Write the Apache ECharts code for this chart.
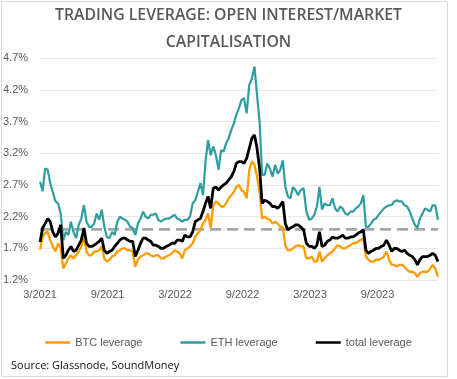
<!DOCTYPE html>
<html><head><meta charset="utf-8">
<script src="https://cdn.jsdelivr.net/npm/echarts@6/dist/echarts.min.js"></script>
<style>html,body{margin:0;padding:0;background:#fff}#c{width:457px;height:379px}</style>
</head><body><div id="c"></div>
<script>
const titleLines = ['TRADING LEVERAGE: OPEN INTEREST/MARKET', 'CAPITALISATION'];
const sourceText = 'Source: Glassnode, SoundMoney';
const seriesNames = ['BTC leverage', 'ETH leverage', 'total leverage'];
const xTickLabels = ['3/2021', '9/2021', '3/2022', '9/2022', '3/2023', '9/2023'];
const yTicks = [1.2, 1.7, 2.2, 2.7, 3.2, 3.7, 4.2, 4.7];
const referenceLevel = 2.0;

const dates = [
'2021-03-01','2021-03-08','2021-03-15','2021-03-22','2021-03-29','2021-04-05','2021-04-12','2021-04-19','2021-04-26','2021-05-03',
'2021-05-10','2021-05-17','2021-05-24','2021-05-31','2021-06-07','2021-06-14','2021-06-21','2021-06-28','2021-07-05','2021-07-12',
'2021-07-19','2021-07-26','2021-08-02','2021-08-09','2021-08-16','2021-08-23','2021-08-30','2021-09-06','2021-09-13','2021-09-20',
'2021-09-27','2021-10-04','2021-10-11','2021-10-18','2021-10-25','2021-11-01','2021-11-08','2021-11-15','2021-11-22','2021-11-29',
'2021-12-06','2021-12-13','2021-12-20','2021-12-27','2022-01-03','2022-01-10','2022-01-17','2022-01-24','2022-01-31','2022-02-07',
'2022-02-14','2022-02-21','2022-02-28','2022-03-07','2022-03-14','2022-03-21','2022-03-28','2022-04-04','2022-04-11','2022-04-18',
'2022-04-25','2022-05-02','2022-05-09','2022-05-16','2022-05-23','2022-05-30','2022-06-06','2022-06-13','2022-06-20','2022-06-27',
'2022-07-04','2022-07-11','2022-07-18','2022-07-25','2022-08-01','2022-08-08','2022-08-15','2022-08-22','2022-08-29','2022-09-05',
'2022-09-12','2022-09-19','2022-09-26','2022-10-03','2022-10-10','2022-10-17','2022-10-24','2022-10-31','2022-11-07','2022-11-14',
'2022-11-21','2022-11-28','2022-12-05','2022-12-12','2022-12-19','2022-12-26','2023-01-02','2023-01-09','2023-01-16','2023-01-23',
'2023-01-30','2023-02-06','2023-02-13','2023-02-20','2023-02-27','2023-03-06','2023-03-13','2023-03-20','2023-03-27','2023-04-03',
'2023-04-10','2023-04-17','2023-04-24','2023-05-01','2023-05-08','2023-05-15','2023-05-22','2023-05-29','2023-06-05','2023-06-12',
'2023-06-19','2023-06-26','2023-07-03','2023-07-10','2023-07-17','2023-07-24','2023-07-31','2023-08-07','2023-08-14','2023-08-21',
'2023-08-28','2023-09-04','2023-09-11','2023-09-18','2023-09-25','2023-10-02','2023-10-09','2023-10-16','2023-10-23','2023-10-30',
'2023-11-06','2023-11-13','2023-11-20','2023-11-27','2023-12-04','2023-12-11','2023-12-18','2023-12-25','2024-01-01','2024-01-08',
'2024-01-15','2024-01-22','2024-01-29','2024-02-05','2024-02-12'
];

const btcLeverage = [
1.68,1.88,1.94,1.96,1.83,1.73,1.65,1.78,1.70,1.38,
1.46,1.54,1.59,1.54,1.59,1.65,1.73,1.88,1.65,1.59,
1.59,1.65,1.65,1.67,1.73,1.54,1.49,1.52,1.57,1.59,
1.65,1.67,1.70,1.70,1.67,1.67,1.65,1.41,1.52,1.57,
1.59,1.62,1.62,1.59,1.57,1.59,1.59,1.54,1.54,1.57,
1.59,1.62,1.67,1.65,1.62,1.54,1.67,1.70,1.73,1.78,
1.88,1.94,1.99,2.09,2.15,2.25,2.02,2.38,2.44,2.41,
2.36,2.36,2.41,2.49,2.54,2.59,2.67,2.70,2.62,2.59,
2.49,2.94,3.07,3.02,2.83,2.59,2.17,2.20,2.17,2.15,
2.09,2.12,2.09,2.04,2.04,1.75,1.67,1.67,1.70,1.73,
1.75,1.73,1.73,1.54,1.54,1.57,1.49,1.49,1.65,1.49,
1.54,1.59,1.62,1.65,1.70,1.75,1.73,1.70,1.70,1.73,
1.75,1.78,1.78,1.81,1.83,1.86,1.57,1.52,1.49,1.49,
1.52,1.52,1.54,1.57,1.65,1.52,1.44,1.44,1.41,1.44,
1.44,1.41,1.36,1.33,1.33,1.31,1.25,1.31,1.33,1.33,
1.33,1.38,1.44,1.38,1.25
];

const ethLeverage = [
2.75,2.60,2.96,2.94,2.73,2.59,2.44,2.41,2.25,1.83,
1.96,1.91,2.12,1.96,1.86,2.07,2.17,2.38,2.12,2.04,
2.04,2.09,2.25,2.15,2.31,2.04,1.88,1.86,1.96,1.91,
2.12,2.20,2.17,2.15,2.12,2.04,2.02,1.91,2.09,2.17,
2.28,2.20,2.17,2.23,2.23,2.25,2.15,2.12,2.15,2.17,
2.17,2.20,2.23,2.17,2.15,2.12,2.15,2.15,2.20,2.41,
2.46,2.59,2.73,2.54,3.07,3.41,3.17,3.31,3.17,2.94,
3.25,3.23,3.36,3.44,3.57,3.67,3.81,3.91,4.04,4.07,
3.83,4.28,4.38,4.57,4.12,3.70,2.86,2.86,3.04,2.96,
2.83,3.02,2.88,2.94,3.09,2.67,2.52,2.49,2.67,2.62,
2.54,2.62,2.65,2.28,2.15,2.17,2.23,2.36,2.67,2.31,
2.41,2.38,2.38,2.49,2.33,2.28,2.36,2.33,2.25,2.23,
2.28,2.28,2.33,2.36,2.41,2.54,2.04,2.04,2.09,2.15,
2.17,2.23,2.28,2.33,2.36,2.38,2.38,2.44,2.46,2.44,
2.44,2.38,2.36,2.28,2.17,2.07,2.02,2.17,2.25,2.33,
2.31,2.28,2.38,2.38,2.15
];

const totalLeverage = [
1.80,2.02,2.09,2.17,2.12,1.96,1.88,1.94,2.07,1.54,
1.59,1.67,1.73,1.65,1.67,1.75,1.83,2.02,1.78,1.73,
1.73,1.75,1.78,1.81,1.86,1.67,1.62,1.65,1.67,1.73,
1.78,1.83,1.86,1.86,1.83,1.81,1.81,1.57,1.67,1.78,
1.86,1.86,1.83,1.81,1.75,1.75,1.73,1.70,1.70,1.73,
1.75,1.78,1.78,1.83,1.83,1.81,1.91,1.88,1.88,1.96,
2.12,2.15,2.17,2.28,2.41,2.52,2.33,2.65,2.67,2.62,
2.67,2.70,2.73,2.78,2.83,2.91,3.04,3.07,3.07,3.04,
3.12,3.28,3.44,3.49,3.28,2.96,2.41,2.46,2.44,2.41,
2.36,2.36,2.33,2.38,2.44,2.09,1.99,2.02,2.04,2.07,
2.07,2.04,1.99,1.78,1.73,1.73,1.70,1.75,1.96,1.73,
1.75,1.81,1.83,1.88,1.86,1.86,1.88,1.91,1.86,1.86,
1.88,1.88,1.91,1.94,1.96,1.99,1.67,1.62,1.65,1.67,
1.70,1.70,1.73,1.75,1.83,1.75,1.65,1.70,1.70,1.67,
1.65,1.67,1.62,1.59,1.57,1.52,1.44,1.52,1.57,1.57,
1.57,1.59,1.62,1.59,1.49
];

// months elapsed since 1 March 2021 (so that ticks every 6 months fall on 3/ and 9/)
function monthOffset(s) {
  const [y, m, d] = s.split('-').map(Number);
  const dim = new Date(y, m, 0).getDate();
  return (y - 2021) * 12 + (m - 3) + (d - 1) / dim;
}
const xs = dates.map(monthOffset);
const toPairs = arr => arr.map((v, i) => [xs[i], v]);

const labelFont = 'Liberation Sans, Arial, sans-serif';
const grey = '#595959';

const chart = echarts.init(document.getElementById('c'), null, { renderer: 'canvas' });
chart.setOption({
  animation: false,
  backgroundColor: '#ffffff',
  title: {
    text: titleLines.join('\n'),
    left: 'center',
    top: 1.5,
    padding: 0,
    textStyle: { fontFamily: 'Open Sans', fontWeight: 600, fontSize: 15.8, color: grey, lineHeight: 27 }
  },
  grid: { left: 40, right: 19, top: 58.3, bottom: 99, containLabel: false },
  legend: {
    data: seriesNames,
    left: 'center',
    top: 337,
    padding: 0,
    itemGap: 38,
    itemWidth: 25,
    itemHeight: 2.5,
    icon: 'rect',
    textStyle: { fontFamily: labelFont, fontSize: 11, color: grey }
  },
  xAxis: {
    type: 'value',
    min: 0,
    max: xs[xs.length - 1],
    interval: 6,
    axisLine: { show: false },
    axisTick: { show: false },
    splitLine: { show: false },
    axisLabel: {
      margin: 9,
      fontFamily: labelFont, fontSize: 11, color: grey,
      showMaxLabel: false,
      formatter: v => (Math.abs(v % 6) < 1e-9 ? (xTickLabels[Math.round(v / 6)] || '') : '')
    }
  },
  yAxis: {
    type: 'value',
    min: yTicks[0],
    max: yTicks[yTicks.length - 1],
    axisLine: { show: false },
    axisTick: { show: false, customValues: yTicks },
    splitLine: { show: true, lineStyle: { color: '#e8e8e8', width: 1 } },
    axisLabel: {
      customValues: yTicks,
      margin: 12,
      fontFamily: labelFont, fontSize: 11, color: grey,
      formatter: v => v.toFixed(1) + '%'
    }
  },
  series: [
    {
      name: 'reference', type: 'line', silent: true, showSymbol: false, z: 1,
      data: [[xs[0], referenceLevel], [xs[xs.length - 1], referenceLevel]],
      lineStyle: { color: '#a6a6a6', width: 2.6, type: [11, 6] }
    },
    {
      name: seriesNames[0], type: 'line', showSymbol: false, z: 2,
      data: toPairs(btcLeverage),
      itemStyle: { color: '#ff9c00' },
      lineStyle: { color: '#ff9c00', width: 2.3 }
    },
    {
      name: seriesNames[1], type: 'line', showSymbol: false, z: 2,
      data: toPairs(ethLeverage),
      itemStyle: { color: '#2e9e9f' },
      lineStyle: { color: '#2e9e9f', width: 2.2 }
    },
    {
      name: seriesNames[2], type: 'line', showSymbol: false, z: 3,
      data: toPairs(totalLeverage),
      itemStyle: { color: '#000000' },
      lineStyle: { color: '#000000', width: 2.8 }
    }
  ],
  graphic: [
    {
      type: 'rect', silent: true, z: -1,
      shape: { x: 1.5, y: 1.5, width: 446, height: 375 },
      style: { fill: 'none', stroke: '#d9d9d9', lineWidth: 1 }
    },
    {
      type: 'text', left: 11, top: 360,
      style: { text: sourceText, fontFamily: 'Open Sans', fontWeight: 500, fontSize: 11, fill: '#111111' }
    }
  ]
});
</script>
</body></html>
